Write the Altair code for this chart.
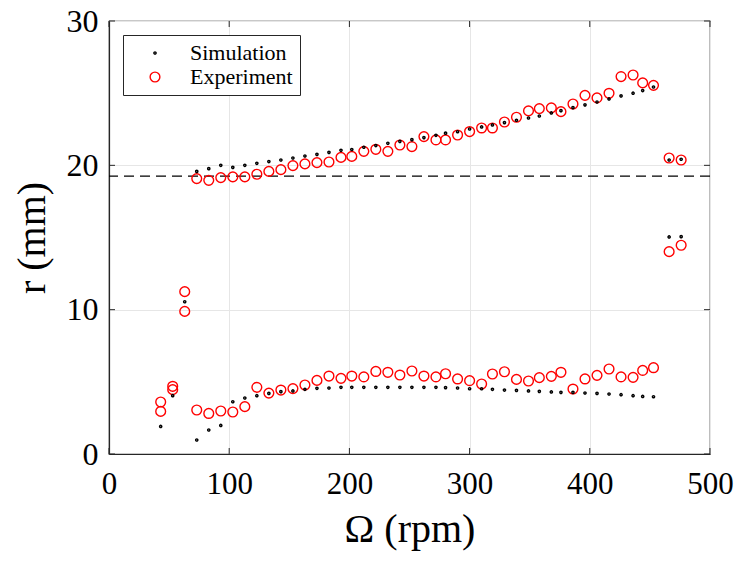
import altair as alt
import pandas as pd

series_names = ["Simulation", "Experiment"]
x_ticks = [0, 100, 200, 300, 400, 500]
y_ticks = [0, 10, 20, 30]
threshold = [19.25]

rpm_main = [73, 83, 93, 103, 113, 123, 133, 143, 153, 163, 173, 183, 193,
            202, 212, 222, 232, 242, 252, 262, 272, 280, 290, 300, 310,
            319, 329, 339, 349, 358, 368, 376, 386, 396, 406, 416, 426,
            436, 444, 453]
rpm_early = [43, 53, 63]
rpm_late = [466, 476]

sim_upper = [19.58, 19.77, 20.0, 19.86, 20.0, 20.14, 20.26, 20.37, 20.51, 20.65,
             20.76, 20.9, 21.04, 21.1, 21.25, 21.37, 21.53, 21.66, 21.78, 21.92,
             22.08, 22.23, 22.33, 22.52, 22.66, 22.8, 22.96, 23.12, 23.28, 23.42,
             23.63, 23.79, 24.0, 24.19, 24.39, 24.6, 24.81, 25.0, 25.18, 25.43]
sim_lower = [0.97, 1.66, 1.98, 3.62, 3.88, 4.04, 4.2, 4.32, 4.37, 4.48,
             4.55, 4.57, 4.62, 4.62, 4.62, 4.62, 4.62, 4.62, 4.62, 4.62,
             4.62, 4.6, 4.57, 4.52, 4.52, 4.48, 4.43, 4.41, 4.37, 4.34,
             4.3, 4.27, 4.27, 4.23, 4.2, 4.16, 4.11, 4.04, 3.99, 3.97]
exp_upper = [19.08, 18.96, 19.15, 19.2, 19.2, 19.38, 19.58, 19.7, 19.98, 20.1,
             20.19, 20.23, 20.55, 20.62, 20.97, 21.11, 20.97, 21.41, 21.3, 21.99,
             21.76, 21.76, 22.1, 22.34, 22.59, 22.59, 23.0, 23.33, 23.77, 23.93,
             23.98, 23.72, 24.25, 24.85, 24.67, 24.99, 26.15, 26.26, 25.71, 25.54]
exp_lower = [3.05, 2.81, 2.98, 2.91, 3.28, 4.62, 4.22, 4.43, 4.53, 4.78,
             5.1, 5.4, 5.24, 5.4, 5.34, 5.72, 5.66, 5.47, 5.75, 5.4,
             5.34, 5.56, 5.2, 5.08, 4.85, 5.54, 5.7, 5.17, 5.06, 5.29,
             5.38, 5.66, 4.5, 5.2, 5.45, 5.89, 5.34, 5.31, 5.79, 5.98]

sim_early = [1.91, 4.04, 10.55]
exp_early_a = [3.6, 4.69, 11.25]
exp_early_b = [2.95, 4.46, 9.88]
sim_late_hi = [20.37, 20.42]
sim_late_lo = [15.04, 15.06]
exp_late_hi = [20.51, 20.37]
exp_late_lo = [14.02, 14.46]

rows = []
def add(xs, ys, s):
    for x, y in zip(xs, ys):
        rows.append({"rpm": x, "r": y, "series": s})

# experiment first so simulation dots are drawn on top
add(rpm_early, exp_early_a, "Experiment")
add(rpm_early, exp_early_b, "Experiment")
add(rpm_main, exp_upper, "Experiment")
add(rpm_main, exp_lower, "Experiment")
add(rpm_late, exp_late_hi, "Experiment")
add(rpm_late, exp_late_lo, "Experiment")
add(rpm_early, sim_early, "Simulation")
add(rpm_main, sim_upper, "Simulation")
add(rpm_main, sim_lower, "Simulation")
add(rpm_late, sim_late_hi, "Simulation")
add(rpm_late, sim_late_lo, "Simulation")
df = pd.DataFrame(rows)
df["idx"] = range(len(df))

W, H = 601, 433
FONT = "Liberation Serif"
AX = "#262626"

xscale = alt.Scale(domain=[0, 500], nice=False)
yscale = alt.Scale(domain=[0, 30], nice=False)

points = alt.Chart(df).mark_point(filled=False, shape="circle", strokeWidth=1.4, opacity=1).encode(
    x=alt.X("rpm:Q", scale=xscale,
            axis=alt.Axis(values=x_ticks, title="Ω (rpm)", ticks=False, labelPadding=15,
                          labelFlush=False, titlePadding=10)),
    y=alt.Y("r:Q", scale=yscale,
            axis=alt.Axis(values=y_ticks, title="r (mm)", ticks=False, labelPadding=11,
                          labelFlush=False, titlePadding=14)),
    color=alt.Color("series:N", scale=alt.Scale(domain=series_names, range=["#000000", "#ff0000"]),
                    legend=alt.Legend(title=None)),
    size=alt.Size("series:N", scale=alt.Scale(domain=series_names, range=[5, 95]),
                  legend=alt.Legend(title=None)),
    order=alt.Order("idx:Q"),
)

dash = alt.Chart(pd.DataFrame({"r": threshold})).mark_rule(
    color="black", strokeDash=[10, 6], strokeWidth=1.1
).encode(y=alt.Y("r:Q", scale=yscale))

xt = pd.DataFrame({"rpm": x_ticks})
yt = pd.DataFrame({"r": y_ticks})
tick_bottom = alt.Chart(xt).mark_rule(color=AX).encode(
    x=alt.X("rpm:Q", scale=xscale), y=alt.value(H), y2=alt.value(H - 6))
tick_top = alt.Chart(xt).mark_rule(color=AX).encode(
    x=alt.X("rpm:Q", scale=xscale), y=alt.value(0), y2=alt.value(6))
tick_left = alt.Chart(yt).mark_rule(color=AX).encode(
    y=alt.Y("r:Q", scale=yscale), x=alt.value(0), x2=alt.value(6))
tick_right = alt.Chart(yt).mark_rule(color=AX).encode(
    y=alt.Y("r:Q", scale=yscale), x=alt.value(W), x2=alt.value(W - 6))

chart = alt.layer(dash, tick_bottom, tick_top, tick_left, tick_right, points).properties(
    width=W, height=H,
    autosize=alt.AutoSizeParams(type="none"),
    padding={"left": 101, "top": 13, "right": 24, "bottom": 107},
).configure_view(
    stroke=AX, strokeWidth=1.2
).configure_axis(
    labelFont=FONT, titleFont=FONT, labelFontSize=32, titleFontSize=40,
    labelColor="#000000", titleColor="#000000", titleFontWeight="normal",
    domainColor=AX, domainWidth=1.2, gridColor="#e6e6e6", grid=True,
).configure_axisX(
    labelFontSize=31,
).configure_legend(
    orient="none", legendX=14, legendY=14, fillColor="white", strokeColor=AX,
    padding=7, labelFont=FONT, labelFontSize=22, labelColor="#000000",
    symbolStrokeWidth=1.4, rowPadding=2, labelOffset=24, symbolOffset=14,
)

chart.save("out.html", embed_options={"renderer": "svg", "actions": False})
